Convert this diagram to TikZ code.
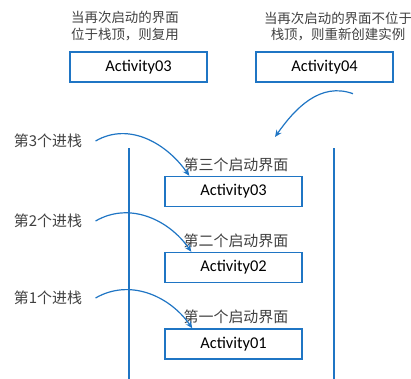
\documentclass[tikz,border=0pt]{standalone}
\usepackage{fontspec}
\setmainfont{Carlito}
\newfontfamily\cjk{Noto Sans CJK SC}
\usetikzlibrary{positioning,arrows.meta}
\definecolor{stackblue}{RGB}{31,117,196}
\definecolor{notegray}{RGB}{64,64,64}

\begin{document}
\begin{tikzpicture}[x=1bp,y=1bp,
    act/.style={draw=stackblue,line width=1.4bp,minimum width=137bp,minimum height=30bp,font=\fontsize{16.5}{18}\selectfont},
    note/.style={text=notegray,align=center,font=\cjk\fontsize{13.5}{17}\selectfont},
    title/.style={text=notegray,inner sep=2bp,font=\cjk\fontsize{15}{17}\selectfont},
    push/.style={-{Stealth[length=7bp,width=6bp]},draw=stackblue,line width=1.2bp},
    wall/.style={draw=stackblue,line width=1.4bp}]
    \useasboundingbox (0,0) rectangle (411,-379);

    % top: reuse vs. new instance
    \node[note] (reuse) at (125,-26.5) {当再次启动的界面\\位于栈顶，则复用};
    \node[note] (renew) at (338,-26.5) {当再次启动的界面不位于\\栈顶，则重新创建实例};
    \node[act] (top03) at (138.5,-67) {Activity03};
    \node[act] (top04) at (324.5,-67) {Activity04};

    % the stack
    \draw[wall] (129,-148) -- (129,-379);
    \draw[wall] (334,-148) -- (334,-379);
    \node[act] (act3) at (233.5,-191.5) {Activity03};
    \node[act] (act2) at (233.5,-267.5) {Activity02};
    \node[act] (act1) at (233.5,-344) {Activity01};
    \node[title] (t3) [above=2bp of act3,xshift=2.5bp] {第三个启动界面};
    \node[title] (t2) [above=2bp of act2,xshift=2.5bp] {第二个启动界面};
    \node[title] (t1) [above=2bp of act1,xshift=2.5bp] {第一个启动界面};

    \node[note,font=\cjk\fontsize{15}{17}\selectfont] (in3) at (48,-141) {第3个进栈};
    \node[note,font=\cjk\fontsize{15}{17}\selectfont] (in2) at (48,-221) {第2个进栈};
    \node[note,font=\cjk\fontsize{15}{17}\selectfont] (in1) at (48,-298) {第1个进栈};

    \path
    ([xshift=10bp]in3.east) edge[push,out=30,in=125] ([xshift=25bp]act3.north west)
    ([xshift=10bp]in2.east) edge[push,out=30,in=125] ([xshift=27bp]act2.north west)
    ([xshift=10bp]in1.east) edge[push,out=30,in=125] ([xshift=28bp]act1.north west);

    \coordinate (newtop) at (275,-137);
    \draw[push] ([shift={(28.5,-11)}]top04.south) to[out=160,in=55] (newtop);
\end{tikzpicture}
\end{document}
